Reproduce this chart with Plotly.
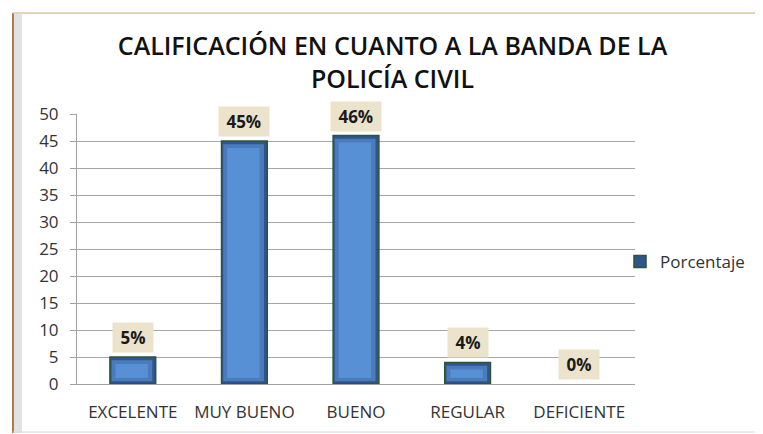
import plotly.graph_objects as go

categories = ["EXCELENTE", "MUY BUENO", "BUENO", "REGULAR", "DEFICIENTE"]
values = [5, 45, 46, 4, 0]
labels = ["5%", "45%", "46%", "4%", "0%"]
series_name = "Porcentaje"
title_text = "CALIFICACIÓN EN CUANTO A LA BANDA DE LA<br>POLICÍA CIVIL"
y_ticks = [0, 5, 10, 15, 20, 25, 30, 35, 40, 45, 50]

OFF = 8  # page body margin
W, H = 763 - OFF, 434 - OFF
L, T = 77 - OFF, 114 - OFF
R = W - (635 - OFF)
B = H - (384 - OFF)
pw, ph = W - L - R, H - T - B


def px_x(px):
    return (px - OFF - L) / pw


def px_y(py):
    return (H - B - (py - OFF)) / ph


def bevel_layer(b_bot, b_top):
    base = [b_bot if v > b_bot + b_top else 0 for v in values]
    h = [max(v - b_bot - b_top, 0) for v in values]
    return base, h


fig = go.Figure()
fig.add_trace(go.Bar(
    x=categories, y=values, name=series_name,
    marker=dict(color="#2f568c",
                line=dict(color="#2c5535",
                          width=[1.5 if v > 0 else 0 for v in values])),
    width=0.41, showlegend=True,
))
mid_base, mid_h = bevel_layer(0.5, 0.6)
fig.add_trace(go.Bar(
    x=categories, y=mid_h, base=mid_base, name=series_name,
    marker=dict(color="#4a7cbd", line=dict(width=0)),
    width=0.365, offset=-0.19, showlegend=False, hoverinfo="skip",
))
in_base, in_h = bevel_layer(1.1, 1.3)
fig.add_trace(go.Bar(
    x=categories, y=in_h, base=in_base, name=series_name,
    marker=dict(color="#5890d6", line=dict(width=0)),
    width=0.29, offset=-0.155, showlegend=False, hoverinfo="skip",
))

for c, v, t in zip(categories, values, labels):
    fig.add_annotation(
        x=c, y=v, text="<b>&nbsp;" + t + "&nbsp;</b>", showarrow=False,
        yanchor="bottom", yshift=4,
        font=dict(family="Open Sans", size=17, color="#1a1a1a"),
        bgcolor="#ebe3cc", borderpad=3,
    )

# frame decoration
shapes = [
    dict(type="rect", xref="paper", yref="paper",
         x0=px_x(13), x1=px_x(22), y0=px_y(433), y1=px_y(14),
         fillcolor="#e2e2e2", line=dict(width=0), layer="below"),
    dict(type="line", xref="paper", yref="paper",
         x0=px_x(13), x1=px_x(13), y0=px_y(433), y1=px_y(13),
         line=dict(color="#b07a50", width=2)),
    dict(type="line", xref="paper", yref="paper",
         x0=px_x(13), x1=px_x(759), y0=px_y(13), y1=px_y(13),
         line=dict(color="#dcc4a8", width=1.5)),
    dict(type="line", xref="paper", yref="paper",
         x0=px_x(13), x1=px_x(759), y0=px_y(432), y1=px_y(432),
         line=dict(color="#d8d8d8", width=1)),
    dict(type="line", xref="paper", yref="paper",
         x0=px_x(758), x1=px_x(758), y0=px_y(432), y1=px_y(13),
         line=dict(color="#e0e0e0", width=1)),
]

fig.update_layout(
    width=W, height=H,
    margin=dict(l=L, r=R, t=T, b=B, autoexpand=False),
    paper_bgcolor="white", plot_bgcolor="white",
    barmode="overlay",
    title=dict(text=title_text, x=(392.5 - OFF) / W, xref="container",
               xanchor="center",
               y=1 - (55 - OFF) / H, yanchor="middle",
               font=dict(family="Open Sans", size=25, color="#111111", weight=600)),
    shapes=shapes,
    legend=dict(x=px_x(620), y=px_y(262), xanchor="left", yanchor="middle",
                font=dict(family="Open Sans", size=17, color="#333333"),
                bgcolor="rgba(0,0,0,0)"),
    xaxis=dict(showline=True, linecolor="#a0a0a0", linewidth=1,
               tickfont=dict(family="Open Sans", size=17, color="#333333"),
               ticks="", ticklabelstandoff=13),
    yaxis=dict(range=[0, 50], tickvals=y_ticks, showgrid=True,
               gridcolor="#a6a6a6", gridwidth=1, zeroline=False,
               showline=True, linecolor="#a0a0a0", linewidth=1,
               ticks="outside", ticklen=6, tickcolor="#a0a0a0",
               ticklabelstandoff=8,
               tickfont=dict(family="Open Sans", size=17, color="#333333")),
)

fig.write_html("out.html")
